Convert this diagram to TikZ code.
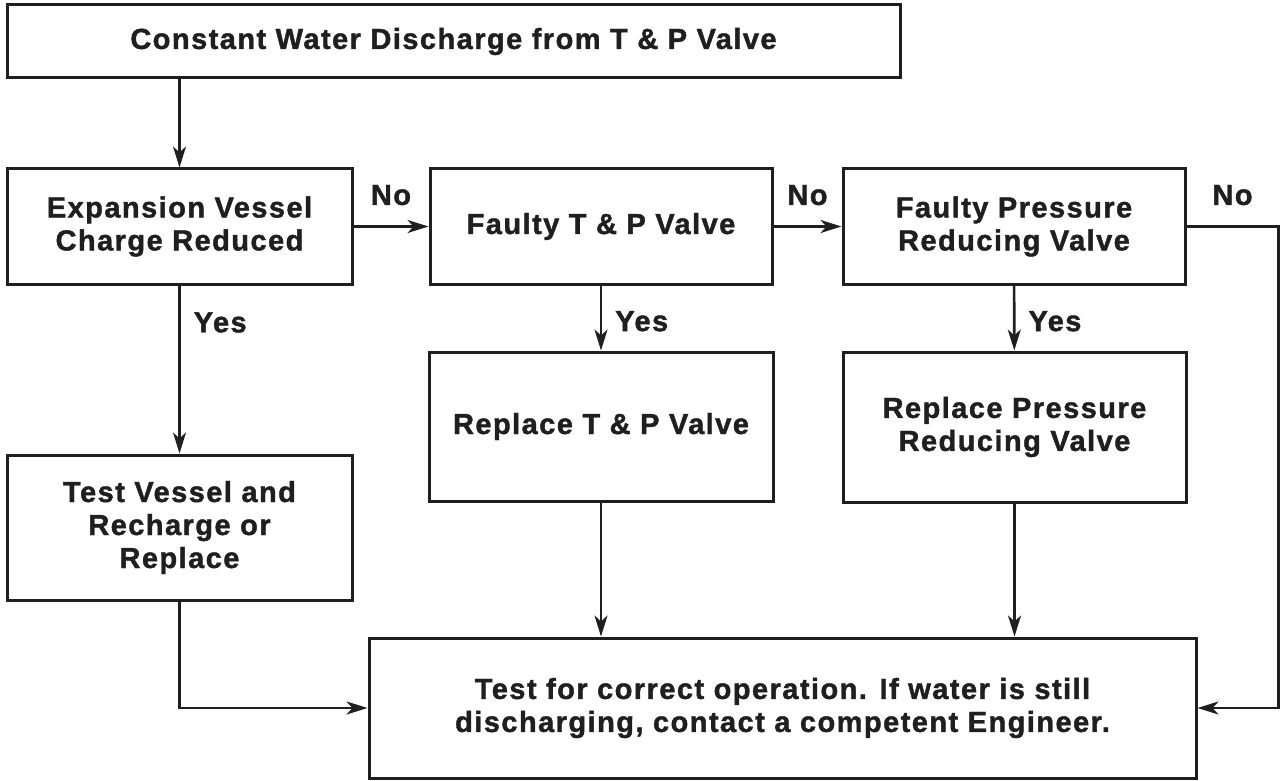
\documentclass[tikz,border=0pt]{standalone}
\usepackage{fontspec}
\setmainfont{Liberation Sans}[LetterSpace=5, BoldFeatures={FakeBold=1.4}]
\usepackage{tikz}
\usetikzlibrary{arrows.meta}

\begin{document}
\begin{tikzpicture}[
            x = 1pt, y = -1pt, % pixel grid, y runs downwards
            > = {Stealth[length=21pt, width=13pt, inset=6pt]}, % arrow head style
            line width = 2.6pt, % line style
            color = black!88,
            font = \fontsize{29}{33}\selectfont\bfseries
        ]

        \tikzstyle{box}=[
            draw,
            line width = 3pt,
            align = center,
            inner sep = 0pt
        ]
        \tikzstyle{answer}=[
            inner sep = 0pt
        ]

        \useasboundingbox (0,0) rectangle (1280,781);

        \node[box, minimum width=893pt, minimum height=73pt] (start) at (453.5,41.5) {Constant Water Discharge from T \& P Valve};
        \node[box, minimum width=345pt, minimum height=115pt] (vessel) at (179.5,226.5) {Expansion Vessel\\Charge Reduced};
        \node[box, minimum width=342pt, minimum height=115pt] (tpvalve) at (601,226.5) {Faulty T \& P Valve};
        \node[box, minimum width=342pt, minimum height=115pt] (prv) at (1014,226.5) {Faulty Pressure\\Reducing Valve};
        \node[box, minimum width=345pt, minimum height=145pt] (recharge) at (179.5,527.5) {Test Vessel and\\Recharge or\\Replace};
        \node[box, minimum width=344pt, minimum height=149pt] (newtp) at (601,426.5) {Replace T \& P Valve};
        \node[box, minimum width=343pt, minimum height=150pt] (newprv) at (1014.5,427) {Replace Pressure\\Reducing Valve};
        \node[box, minimum width=827pt, minimum height=140pt] (check) at (782.5,708) {Test for correct operation. If water is still\\discharging, contact a competent Engineer.};
        \coordinate (loop) at (1278.5,0);

        \draw[->] (start.south -| vessel) -- (vessel);
        \draw[->] (vessel) -- node[answer, above=20pt] {No} (tpvalve);
        \draw[->] (tpvalve) -- node[answer, above=20pt] {No} (prv);
        \draw[->] (prv.east) -- node[answer, above=20pt] {No} (prv.east -| loop) |- (check.east);
        \draw[->] (vessel) -- node[answer, pos=0.22, right=13pt] {Yes} (recharge);
        \draw[->] (tpvalve) -- node[answer, pos=0.55, right=13pt] {Yes} (newtp);
        \draw[->] (prv) -- node[answer, pos=0.55, right=13pt] {Yes} (newprv);
        \draw[->] (recharge) |- (check);
        \draw[->] (newtp) -- (newtp |- check.north);
        \draw[->] (newprv) -- (newprv |- check.north);

  \end{tikzpicture}
\end{document}
